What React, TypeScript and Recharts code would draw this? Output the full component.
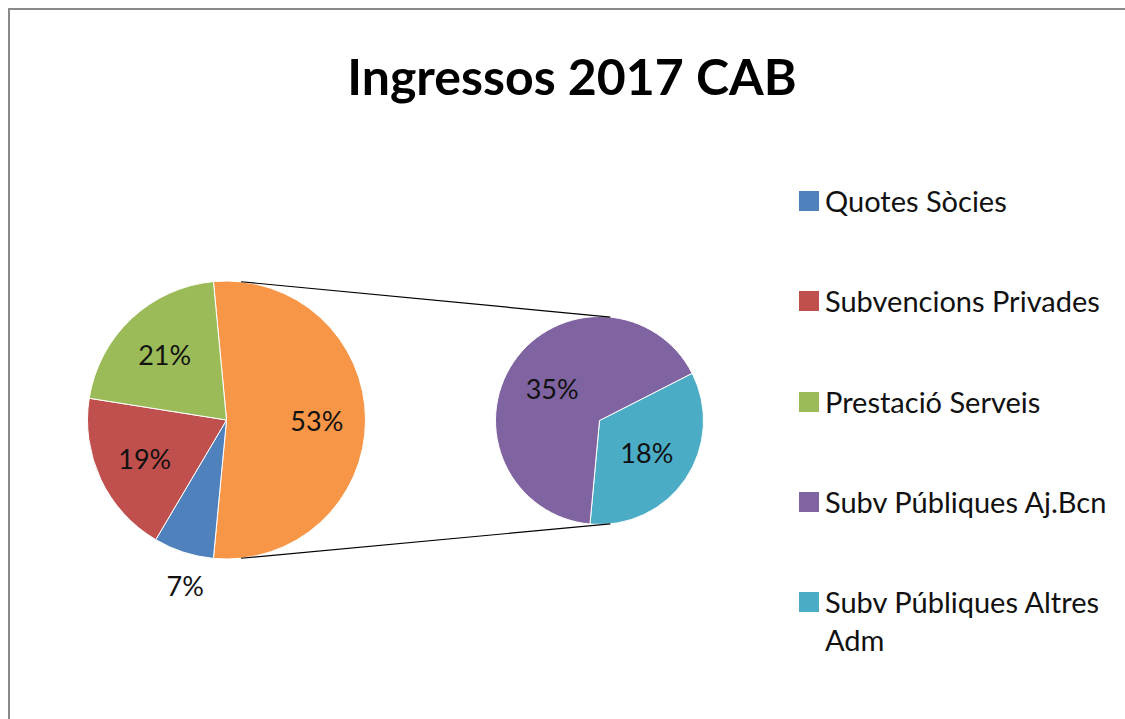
import { PieChart, Pie, Cell, Legend } from "recharts";

const categories = [
  "Quotes Sòcies",
  "Subvencions Privades",
  "Prestació Serveis",
  "Subv Públiques Aj.Bcn",
  "Subv Públiques Altres Adm",
];
const values = [7, 19, 21, 35, 18];
const colors = ["#4F81BD", "#C0504D", "#9BBB59", "#8064A2", "#4BACC6"];
const otherColor = "#F79646";
// the last two categories are split out into the small pie
const splitCount = 2;

const FONT = "Lato, 'Liberation Sans', sans-serif";
const RADIAN = Math.PI / 180;

const W = 1122;
const H = 720;
const main = { cx: 216.5, cy: 410, r: 139 };
const side = { cx: 589.5, cy: 410.5, r: 104 };

const firstCount = categories.length - splitCount;
const otherValue = values.slice(firstCount).reduce((a, b) => a + b, 0);
const total = values.reduce((a, b) => a + b, 0);

const mainData = [
  { name: "Altres", value: otherValue, fill: otherColor },
  ...categories.slice(0, firstCount).map((name, i) => ({ name, value: values[i], fill: colors[i] })),
];
// small pie drawn clockwise starting with the last category
const sideData = categories
  .map((name, i) => ({ name, value: values[i], fill: colors[i] }))
  .slice(firstCount)
  .reverse();

const mainStart = (otherValue / total) * 180;
const sideStart = 27;

const makeLabel = (inside: number) => (props: any) => {
  const { cx, cy, midAngle, outerRadius, value } = props;
  const small = value / total < 0.1;
  const r = small ? outerRadius * 1.23 : outerRadius * inside;
  // outside label sits a little right of the slice middle, like Excel's best fit
  const a = small ? midAngle + 4 : midAngle;
  const x = cx + r * Math.cos(-a * RADIAN);
  const y = cy + r * Math.sin(-a * RADIAN);
  return (
    <text x={x} y={y} textAnchor="middle" dominantBaseline="central" fill="#111" fontSize={27} fontFamily={FONT}>
      {`${Math.round((value / total) * 100)}%`}
    </text>
  );
};

const LegendBox = () => (
  <div style={{ fontFamily: FONT, fontSize: 29, color: "#111" }}>
    {categories.map((c, i) => (
      <div key={c} style={{ display: "flex", alignItems: "flex-start", height: 100.3, lineHeight: "38px" }}>
        <span style={{ width: 20, height: 20, marginTop: 9, marginRight: 6, background: colors[i], flexShrink: 0 }} />
        <span style={{ width: 285 }}>{c}</span>
      </div>
    ))}
  </div>
);

// connector lines join both pies at +-84 degrees
const conn = (sign: number) => {
  const a = sign * 84 * RADIAN;
  return {
    x1: main.cx + main.r * Math.cos(a),
    y1: main.cy - main.r * Math.sin(a),
    x2: side.cx + side.r * Math.cos(a),
    y2: side.cy - side.r * Math.sin(a),
  };
};

export default function App() {
  return (
    <div style={{ position: "fixed", left: 0, top: 0, width: 1125, height: 719, overflow: "hidden", background: "#fff" }}>
      <div
        style={{
          position: "absolute",
          left: 8,
          top: 8,
          width: W,
          height: H,
          border: "2px solid #8a8a8a",
          background: "#fff",
        }}
      >
        <div
          style={{
            position: "absolute",
            left: 262,
            width: 600,
            top: 36,
            textAlign: "center",
            fontFamily: FONT,
            fontWeight: 700,
            fontSize: 50,
            lineHeight: "60px",
            color: "#000",
          }}
        >
          Ingressos 2017 CAB
        </div>
        <PieChart width={W} height={H} margin={{ top: 0, right: 0, bottom: 0, left: 0 }}>
          <Pie
            data={mainData}
            dataKey="value"
            cx={main.cx}
            cy={main.cy}
            outerRadius={main.r}
            startAngle={mainStart}
            endAngle={mainStart - 360}
            stroke="#fff"
            strokeWidth={1}
            label={makeLabel(0.65)}
            labelLine={false}
            isAnimationActive={false}
          >
            {mainData.map((d) => (
              <Cell key={d.name} fill={d.fill} />
            ))}
          </Pie>
          <Pie
            data={sideData}
            dataKey="value"
            cx={side.cx}
            cy={side.cy}
            outerRadius={side.r}
            startAngle={sideStart}
            endAngle={sideStart - 360}
            stroke="#fff"
            strokeWidth={1}
            label={makeLabel(0.55)}
            labelLine={false}
            isAnimationActive={false}
          >
            {sideData.map((d) => (
              <Cell key={d.name} fill={d.fill} />
            ))}
          </Pie>
          <Legend
            content={() => <LegendBox />}
            wrapperStyle={{ position: "absolute", left: 789, top: 172, width: 320 }}
          />
        </PieChart>
        <svg width={W} height={H} style={{ position: "absolute", left: 0, top: 0, pointerEvents: "none" }}>
          {[1, -1].map((s) => {
            const l = conn(s);
            return <line key={s} {...l} stroke="#000" strokeWidth={1.2} />;
          })}
        </svg>
      </div>
    </div>
  );
}
